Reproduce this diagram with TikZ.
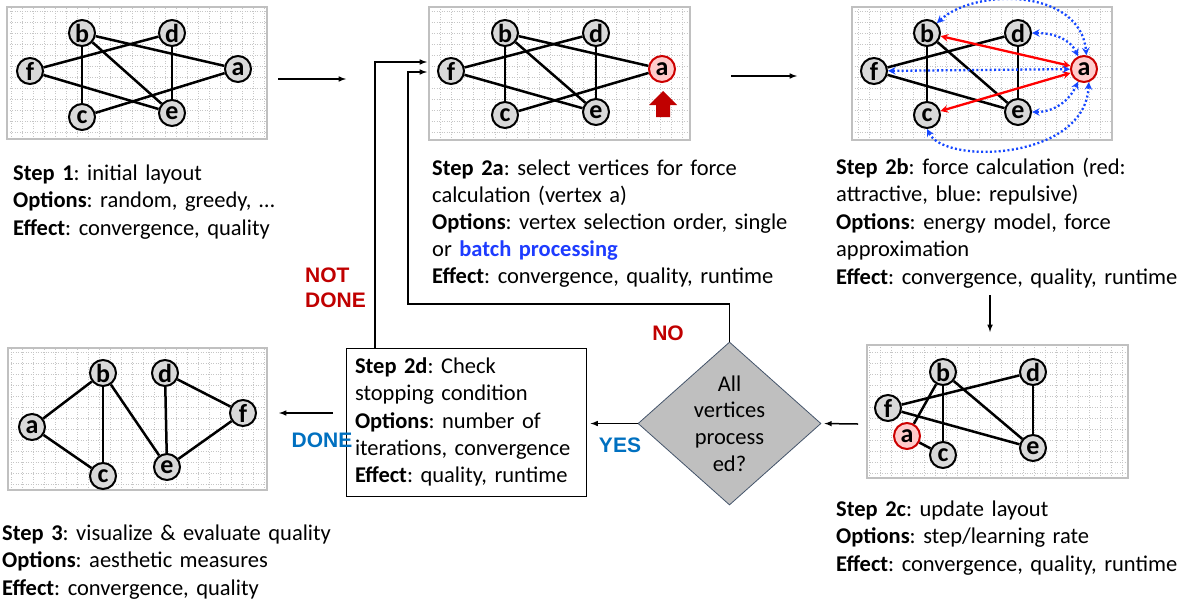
\documentclass[tikz,border=0pt]{standalone}
\usepackage{fontspec}
\setmainfont{Carlito}
\newfontfamily\labfont{Liberation Sans}
\usetikzlibrary{shapes.geometric}
\frenchspacing
\definecolor{darkred}{RGB}{192,0,0}
\definecolor{doneblue}{RGB}{0,112,192}
\definecolor{batchblue}{RGB}{30,60,255}
\definecolor{repblue}{RGB}{20,70,255}
\definecolor{panelgray}{RGB}{192,192,192}
\definecolor{dborder}{RGB}{68,84,106}
\tikzstyle{vtx} = [circle, draw, line width=2pt, fill=gray!30, minimum size=26pt, inner sep=0pt, font=\bfseries\fontsize{26}{26}\selectfont]
\tikzstyle{sel} = [vtx, draw=red!80!black, fill=red!20]
\tikzstyle{link} = [line width=2.5pt]
\tikzstyle{att} = [red, line width=2.3pt, <->, >=stealth]
\tikzstyle{rep} = [repblue, line width=2.3pt, dash pattern=on 2pt off 2.4pt, <->, >=stealth]
\tikzstyle{flow} = [line width=1.5pt, ->, >=latex]
\tikzstyle{caption} = [anchor=base west, inner sep=0pt, text width=380pt, align=left, font=\fontsize{22.5}{27.5}\selectfont]
\tikzstyle{answer} = [inner sep=0pt, align=left, font=\labfont\bfseries\fontsize{21}{25}\selectfont]
\tikzstyle{gridln} = [gray!45, line width=0.5pt, dash pattern=on 1pt off 1.5pt]
\tikzstyle{frame} = [draw=panelgray, line width=2.5pt]
\tikzstyle{dia} = [diamond, aspect=1.12, fill=gray!50, draw=dborder, line width=0.8pt, minimum width=183pt, minimum height=163pt, inner sep=0pt, align=center, font=\fontsize{22.5}{26.7}\selectfont]
\tikzstyle{stopbox} = [draw, line width=1pt, text width=222pt, inner xsep=9pt, minimum height=148pt, align=left, font=\fontsize{22.5}{27.3}\selectfont]
\newcommand{\panel}[4]{\fill[white] (#1,#2) rectangle (#3,#4); \draw[gridln, step=11pt] (#1,#2) grid (#3,#4); \draw[frame] (#1,#2) rectangle (#3,#4);}

\begin{document}
\begin{tikzpicture}[x=1pt, y=-1pt]
\useasboundingbox (0,0) rectangle (1183,603);
% step 1: initial layout
\panel{7}{7}{267}{139}
\node[vtx] (b1) at (82,33) {b};
\node[vtx] (d1) at (172,33) {d};
\node[vtx] (f1) at (30,71) {f};
\node[vtx] (a1) at (238,69) {a};
\node[vtx] (c1) at (82,117) {c};
\node[vtx] (e1) at (172,113) {e};
\foreach \u/\v in {b1/a1, b1/e1, b1/c1, d1/f1, d1/e1, f1/e1, c1/a1}
  \draw[link] (\u) -- (\v);
\node[caption] (t1) at (13,180) {\textbf{Step 1}: initial layout\\
  \textbf{Options}: random, greedy, …\\
  \textbf{Effect}: convergence, quality};

% step 2a: select vertex
\panel{429}{7}{690}{140}
\node[vtx] (b2) at (505,33) {b};
\node[vtx] (d2) at (596,33) {d};
\node[vtx] (f2) at (451,71) {f};
\node[sel] (a2) at (662,69) {a};
\node[vtx] (c2) at (505,115) {c};
\node[vtx] (e2) at (596,112) {e};
\foreach \u/\v in {b2/a2, b2/e2, b2/c2, d2/f2, d2/e2, f2/e2, c2/a2}
  \draw[link] (\u) -- (\v);
\fill[darkred] (649,105) -- (663,91) -- (677,105) -- (670,105) -- (670,117) -- (656,117) -- (656,105) -- cycle;
\node[caption, font=\fontsize{22.5}{27.2}\selectfont] (t2) at (432,175) {\textbf{Step 2a}: select vertices for force\\
  calculation (vertex a)\\
  \textbf{Options}: vertex selection order, single\\
  or \textcolor{batchblue}{\textbf{batch processing}}\\
  \textbf{Effect}: convergence, quality, runtime};

% step 2b: forces
\panel{852}{7}{1112}{140}
\node[vtx] (b3) at (927,33) {b};
\node[vtx] (d3) at (1018,33) {d};
\node[vtx] (f3) at (874,71) {f};
\node[sel] (a3) at (1084,69) {a};
\node[vtx] (c3) at (927,115) {c};
\node[vtx] (e3) at (1018,112) {e};
\foreach \u/\v in {b3/c3, b3/e3, d3/e3, d3/f3, f3/e3}
  \draw[link] (\u) -- (\v);
\draw[att] (b3) -- (a3);
\draw[att] (c3) -- (a3);
\draw[rep] (f3) -- (a3);
\draw[rep] (d3) to[out=0, in=115] (a3);
\draw[rep] (e3) to[out=0, in=-115] (a3);
\draw[rep] (b3.45) .. controls (975,-12) and (1080,-12) .. (a3.80);
\draw[rep] (c3.-90) .. controls (945,165) and (1085,160) .. (a3.-70);
\node[caption] (t3) at (836,174) {\textbf{Step 2b}: force calculation (red:\\
  attractive, blue: repulsive)\\
  \textbf{Options}: energy model, force\\
  approximation\\
  \textbf{Effect}: convergence, quality, runtime};

% step 2c: update layout
\panel{867}{345}{1128}{478}
\node[vtx] (b4) at (943,372) {b};
\node[vtx] (d4) at (1033,372) {d};
\node[vtx] (f4) at (888,408) {f};
\node[sel] (a4) at (907,436) {a};
\node[vtx] (c4) at (943,455) {c};
\node[vtx] (e4) at (1033,448) {e};
\foreach \u/\v in {b4/a4, b4/c4, b4/e4, d4/f4, d4/e4, f4/e4, a4/c4}
  \draw[link] (\u) -- (\v);
\node[caption] (t4) at (836,516) {\textbf{Step 2c}: update layout\\
  \textbf{Options}: step/learning rate\\
  \textbf{Effect}: convergence, quality, runtime};

% decision and stopping condition
\node[dia] (dec) at (729.5,423.5) {All\\vertices\\process\\ed?};
\node[stopbox] (chk) at (466,422) {\textbf{Step 2d}: Check\\
  stopping condition\\
  \textbf{Options}: number of\\
  iterations, convergence\\
  \textbf{Effect}: quality, runtime};

% step 3: final layout
\panel{8}{348}{267}{490}
\node[vtx] (b5) at (103,373) {b};
\node[vtx] (d5) at (165,373) {d};
\node[vtx] (a5) at (32,427) {a};
\node[vtx] (f5) at (243,413) {f};
\node[vtx] (c5) at (103,476) {c};
\node[vtx] (e5) at (167,467) {e};
\foreach \u/\v in {a5/b5, a5/c5, b5/c5, b5/e5, d5/e5, d5/f5, e5/f5}
  \draw[link] (\u) -- (\v);
\node[caption] (t5) at (2,540) {\textbf{Step 3}: visualize \& evaluate quality\\
  \textbf{Options}: aesthetic measures\\
  \textbf{Effect}: convergence, quality};

% flow arrows
\coordinate (o1) at (278,79);
\coordinate (i2) at (346,79);
\coordinate (o2) at (731,76);
\coordinate (i3) at (797,76);
\coordinate (o3) at (990,295);
\coordinate (i4) at (990,332);
\coordinate (o4) at (858,424);
\coordinate (o5) at (333,413);
\coordinate (i5) at (279,413);
\coordinate (back1) at (427,72);
\coordinate (back2) at (427,62);
\draw[flow] (o1) -- (i2);
\draw[flow] (o2) -- (i3);
\draw[flow] (o3) -- (i4);
\draw[flow, shorten >=3pt] (o4) -- (dec.east);
\draw[flow, shorten >=4pt] (dec.west) -- (chk.east |- dec.west);
\draw[flow] (o5) -- (i5);
\draw[flow] (dec.north) |- (408,304) |- (back1);
\draw[flow] ([xshift=-91pt]chk.north) |- (back2);
\node[answer, text=darkred, anchor=north west] (nd) at (305,267.5) {NOT\\DONE};
\node[answer, text=darkred] (no) at (668,333) {NO};
\node[answer, text=doneblue] (yes) at (620,445) {YES};
\node[answer, text=doneblue] (done) at (322,440) {DONE};
\end{tikzpicture}
\end{document}
